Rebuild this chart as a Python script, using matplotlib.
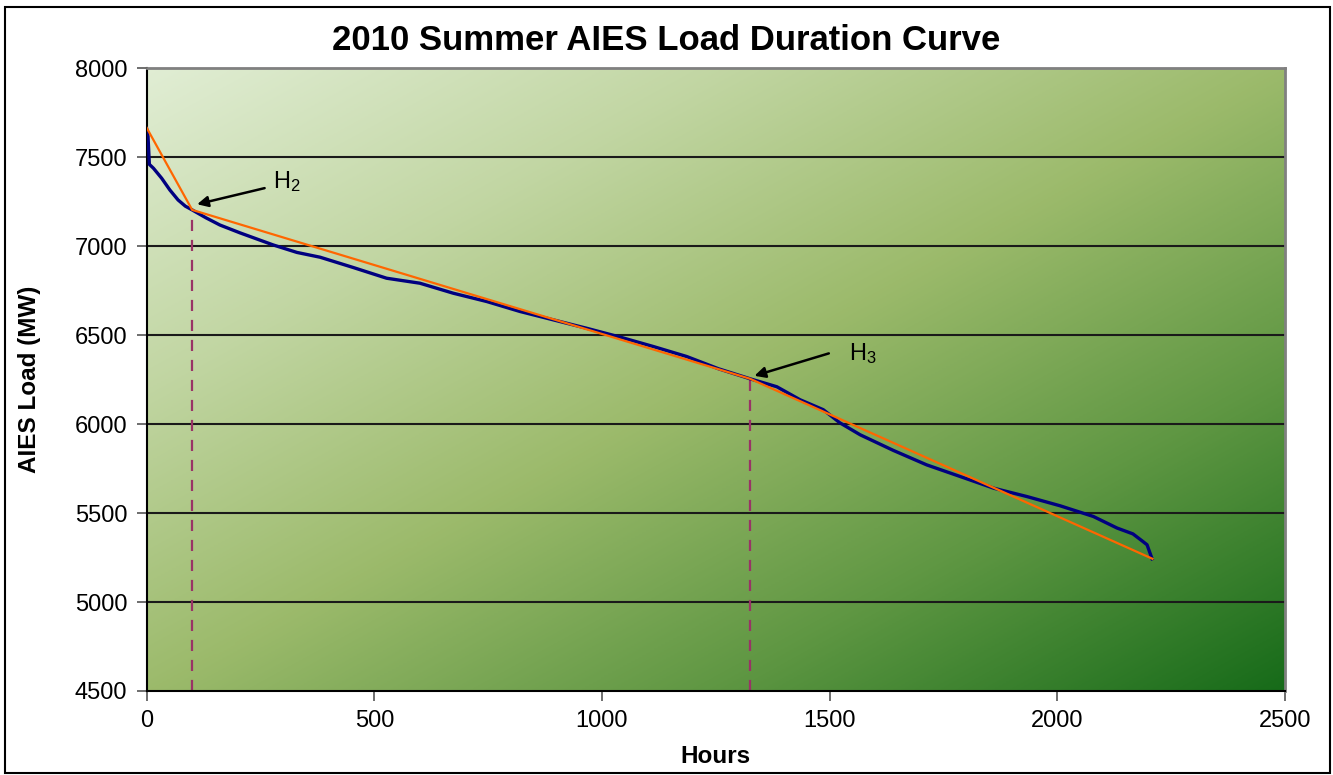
import numpy as np
import matplotlib
matplotlib.use("Agg")
import matplotlib.pyplot as plt
from matplotlib.colors import LinearSegmentedColormap
from matplotlib.patches import Rectangle

plt.rcParams['font.family'] = ['Liberation Sans', 'DejaVu Sans']
plt.rcParams['mathtext.fontset'] = 'custom'
plt.rcParams['mathtext.rm'] = 'Liberation Sans'
plt.rcParams['mathtext.it'] = 'Liberation Sans'
plt.rcParams['mathtext.default'] = 'regular'

# Load duration curve
hours = [0, 3, 6, 15, 33, 51, 69, 85, 100, 130, 161, 205, 278, 330, 381, 454,
         527, 600, 673, 747, 820, 893, 966, 1040, 1113, 1186, 1256, 1325, 1384,
         1435, 1486, 1522, 1567, 1640, 1713, 1786, 1860, 1933, 2006, 2079, 2131,
         2166, 2186, 2197, 2208]
load_mw = [7660, 7620, 7460, 7438, 7382, 7316, 7260, 7225, 7204, 7160, 7119,
           7075, 7007, 6965, 6938, 6880, 6820, 6792, 6736, 6689, 6633, 6586,
           6539, 6489, 6436, 6380, 6311, 6255, 6210, 6137, 6081, 6008, 5940,
           5852, 5771, 5706, 5640, 5593, 5541, 5481, 5416, 5383, 5344, 5322, 5243]

# Piecewise linear approximation
approx_hours = [0, 100, 1325, 2209]
approx_mw = [7666, 7204, 6255, 5243]

# Breakpoints
break_labels = ['H$_2$', 'H$_3$']
break_hours = [100, 1325]
break_mw = [7204, 6255]

title = '2010 Summer AIES Load Duration Curve'
xlabel = 'Hours'
ylabel = 'AIES Load (MW)'
xticks = [0, 500, 1000, 1500, 2000, 2500]
yticks = [4500, 5000, 5500, 6000, 6500, 7000, 7500, 8000]

fig = plt.figure(figsize=(13.33, 7.75), dpi=100)
ax = fig.add_axes([0.110, 0.1084, 0.854, 0.8035])

# gradient background: light top-left -> dark bottom-right
n = 300
xx, yy = np.meshgrid(np.linspace(0, 1, n), np.linspace(0, 1, n))
t = (xx + yy) / 2.0  # row 0 is top with origin='upper'
cmap = LinearSegmentedColormap.from_list(
    'g', [(0.0, (0.88, 0.93, 0.83)), (0.25, (0.76, 0.84, 0.64)),
          (0.5, (0.61, 0.73, 0.42)), (0.75, (0.37, 0.59, 0.26)),
          (1.0, (0.09, 0.42, 0.10))])
ax.imshow(t, cmap=cmap, extent=[0, 1, 0, 1], origin='upper',
          transform=ax.transAxes, aspect='auto', zorder=0, interpolation='bilinear')

ax.set_xlim(0, 2500)
ax.set_ylim(4500, 8000)
ax.set_xticks(xticks)
ax.set_yticks(yticks)
ax.tick_params(labelsize=17, length=7, width=1.2, color='#555555', direction='out')
ax.tick_params(axis='x', pad=7)
ax.tick_params(axis='y', pad=7)
for y in yticks[1:-1]:
    ax.axhline(y, color='#1a1a1a', lw=1.5, zorder=1)

for s in ['top', 'right']:
    ax.spines[s].set_color('#808080')
    ax.spines[s].set_linewidth(2)
for s in ['left', 'bottom']:
    ax.spines[s].set_color('black')
    ax.spines[s].set_linewidth(1.5)

ax.vlines(break_hours, 4500, break_mw, colors='#993366', linestyles=(0, (5, 4)),
          lw=1.6, zorder=2)
ax.plot(hours, load_mw, color='#000080', lw=2.4, zorder=3)
ax.plot(approx_hours, approx_mw, color='#FF6600', lw=1.6, zorder=4)

ax.annotate('', xy=(105, 7232), xytext=(265, 7330),
            arrowprops=dict(arrowstyle='-|>', color='black', lw=1.8,
                            mutation_scale=16), zorder=5)
ax.text(278, 7326, break_labels[0], fontsize=17, va='baseline', ha='left', zorder=5)
ax.annotate('', xy=(1329, 6267), xytext=(1504, 6402),
            arrowprops=dict(arrowstyle='-|>', color='black', lw=1.8,
                            mutation_scale=16), zorder=5)
ax.text(1543, 6361, break_labels[1], fontsize=17, va='baseline', ha='left', zorder=5)

fig.text(0.5, 1 - 40 / 775, title, fontsize=25, fontweight='bold',
         ha='center', va='center')
ax.set_xlabel(xlabel, fontsize=17.5, fontweight='bold', va='center')
ax.set_ylabel(ylabel, fontsize=17.5, fontweight='bold', va='center', ha='center')
ax.xaxis.set_label_coords(0.5, (691 - 757) / 623)
ax.yaxis.set_label_coords((30 - 146.7) / 1138.3, 0.5)

fig.patches.append(Rectangle((5 / 1333, 2 / 775), 1325 / 1333, 766 / 775,
                             transform=fig.transFigure, fill=False,
                             edgecolor='black', lw=1.5))

fig.savefig('out.png', dpi=100)
